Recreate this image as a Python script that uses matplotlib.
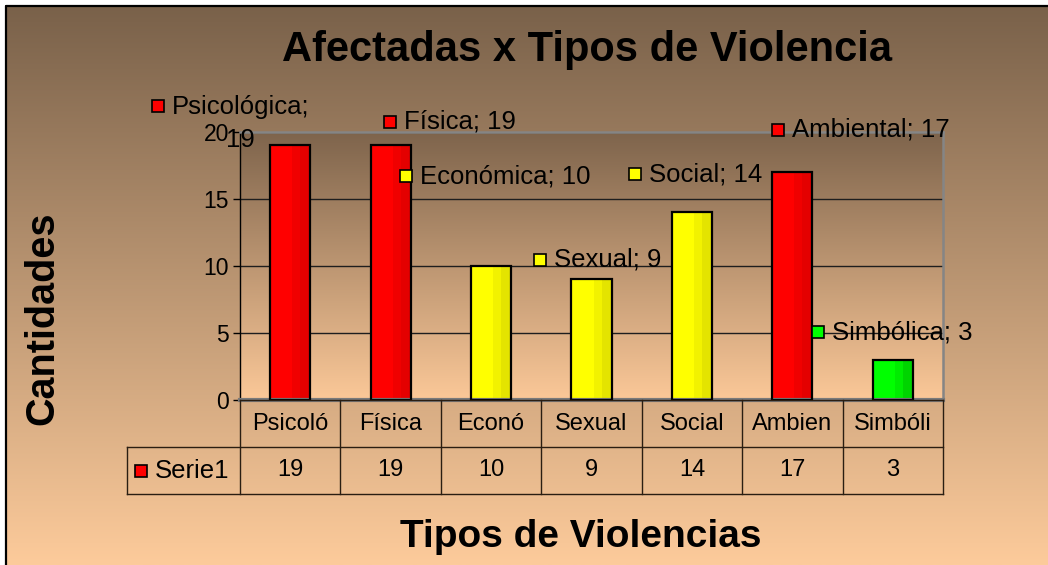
import numpy as np
import matplotlib
matplotlib.use('Agg')
import matplotlib.pyplot as plt
from matplotlib import font_manager
from matplotlib.colors import LinearSegmentedColormap

plt.rcParams['font.family'] = ['Liberation Sans', 'DejaVu Sans']

# datos
categorias = ['Psicológica', 'Física', 'Económica', 'Sexual', 'Social', 'Ambiental', 'Simbólica']
cortas = ['Psicoló', 'Física', 'Econó', 'Sexual', 'Social', 'Ambien', 'Simbóli']
valores = [19, 19, 10, 9, 14, 17, 3]
grupo = ['rojo', 'rojo', 'amarillo', 'amarillo', 'amarillo', 'rojo', 'verde']
serie = 'Serie1'

# posiciones de las etiquetas (cuadrito), en unidades de datos
etq_x = [-1.32, 0.99, 1.15, 2.49, 3.43, 4.86, 5.26]
etq_y = [21.95, 20.75, 16.7, 10.45, 16.85, 20.15, 5.07]

# colores: claro, medio, oscuro
tonos = {
    'rojo': ['#ff0000', '#f00000', '#e40000'],
    'amarillo': ['#ffff00', '#f2f200', '#e4e400'],
    'verde': ['#00ff00', '#00ec00', '#00d400'],
}

# fuente angosta para la tabla, si existe
nombres = {f.name for f in font_manager.fontManager.ttflist}
if 'Liberation Sans Narrow' in nombres:
    tabla_font = dict(family='Liberation Sans Narrow', fontsize=18)
else:
    tabla_font = dict(fontsize=17)

W, H = 1048, 565
fig = plt.figure(figsize=(W / 100, H / 100), dpi=100)

# fondo degradado
bg = fig.add_axes([0, 0, 1, 1], zorder=-10)
bg_cmap = LinearSegmentedColormap.from_list('bg', ['#786049', '#fdcb9b'])
bg.imshow(np.linspace(0, 1, 256)[:, None], cmap=bg_cmap, aspect='auto',
          extent=[0, W, H, 0], origin='upper')
bg.set_xlim(0, W)
bg.set_ylim(H, 0)
bg.axis('off')
bg.fill_between([0, W], 0, 5, color='white', lw=0)
bg.fill_betweenx([0, H], 0, 5, color='white', lw=0)
bg.plot([6, 6, W], [H, 6, 6], color='black', lw=1.6)

left, right, top, bottom = 240, 943, 132, 400
ax = fig.add_axes([left / W, 1 - bottom / H, (right - left) / W, (bottom - top) / H])
ax.set_facecolor('none')
pa_cmap = LinearSegmentedColormap.from_list('pa', ['#7e644c', '#fbc898'])
ax.imshow(np.linspace(0, 1, 256)[:, None], cmap=pa_cmap, aspect='auto',
          extent=[0, 1, 0, 1], origin='upper', transform=ax.transAxes, zorder=0)

x = np.arange(len(valores))
ancho = 0.4
for xi, v, g in zip(x, valores, grupo):
    c1, c2, c3 = tonos[g]
    x0 = xi - ancho / 2
    ax.bar(x0, v, width=ancho * 0.55, align='edge', color=c1, lw=0, zorder=2)
    ax.bar(x0 + ancho * 0.55, v, width=ancho * 0.2, align='edge', color=c2, lw=0, zorder=2)
    ax.bar(x0 + ancho * 0.75, v, width=ancho * 0.25, align='edge', color=c3, lw=0, zorder=2)
    ax.bar(xi, v, width=ancho, color='none', edgecolor='black', lw=1.6, zorder=3)

ax.set_xlim(-0.5, len(valores) - 0.5)
ax.set_ylim(0, 20)
ax.set_yticks([0, 5, 10, 15, 20])
ax.set_xticks([])
ax.tick_params(axis='y', labelsize=16.5, length=5, width=1, direction='out', pad=3)
ax.yaxis.grid(True, color='#1e1e1e', lw=1)
ax.set_axisbelow(True)
ax.spines['left'].set_color('black')
ax.spines['left'].set_linewidth(1)
for s in ['top', 'right']:
    ax.spines[s].set_color('#858585')
    ax.spines[s].set_linewidth(1.8)
ax.spines['bottom'].set_color('#7a7a7a')
ax.spines['bottom'].set_linewidth(3)

# etiquetas de datos
for i, (cat, v) in enumerate(zip(categorias, valores)):
    ax.plot(etq_x[i], etq_y[i], marker='s', ms=9, mfc=tonos[grupo[i]][0],
            mec='black', mew=1.2, clip_on=False, zorder=6)
    if i == 0:
        ax.annotate(f'{cat};\n{v}', (etq_x[i], etq_y[i]), xytext=(10, -12.5),
                    textcoords='offset points', ha='left', va='center',
                    multialignment='center', linespacing=1.45, fontsize=18.5,
                    annotation_clip=False, zorder=6)
    else:
        ax.annotate(f'{cat}; {v}', (etq_x[i], etq_y[i]), xytext=(10, 0),
                    textcoords='offset points', ha='left', va='center',
                    fontsize=18.5, annotation_clip=False, zorder=6)

# tabla de datos
tr = ax.get_xaxis_transform()
fila = 47 / (bottom - top)
x_hdr = (127 - left) / ((right - left) / len(valores)) - 0.5
linea = dict(color='#2a1e12', lw=1, transform=tr, clip_on=False, zorder=5)
ax.plot([-0.5, len(valores) - 0.5], [0, 0], **linea)
ax.plot([x_hdr, len(valores) - 0.5], [-fila, -fila], **linea)
ax.plot([x_hdr, len(valores) - 0.5], [-2 * fila, -2 * fila], **linea)
ax.plot([x_hdr, x_hdr], [-fila, -2 * fila], **linea)
for b in np.arange(-0.5, len(valores)):
    ax.plot([b, b], [0, -2 * fila], **linea)
for xi, lab, v in zip(x, cortas, valores):
    ax.text(xi, -fila / 2, lab, transform=tr, ha='center', va='center', **tabla_font)
    ax.text(xi, -1.5 * fila, str(v), transform=tr, ha='center', va='center', **tabla_font)
ax.plot(x_hdr + 0.135, -1.5 * fila, marker='s', ms=9, mfc='#ff0000', mec='black',
        mew=1.2, transform=tr, clip_on=False, zorder=6)
ax.text(x_hdr + 0.28, -1.5 * fila, serie, transform=tr, ha='left', va='center',
        fontsize=18.5)

# titulos
fig.text(587 / W, 1 - 50 / H, 'Afectadas x Tipos de Violencia', ha='center', va='center',
         fontsize=30, fontweight='bold')
fig.text(581 / W, 1 - 537 / H, 'Tipos de Violencias', ha='center', va='center',
         fontsize=28, fontweight='bold')
fig.text(42 / W, 1 - 318 / H, 'Cantidades', ha='center', va='center', rotation=90,
         fontsize=28.5, fontweight='bold')

fig.savefig('out.png', dpi=100)
